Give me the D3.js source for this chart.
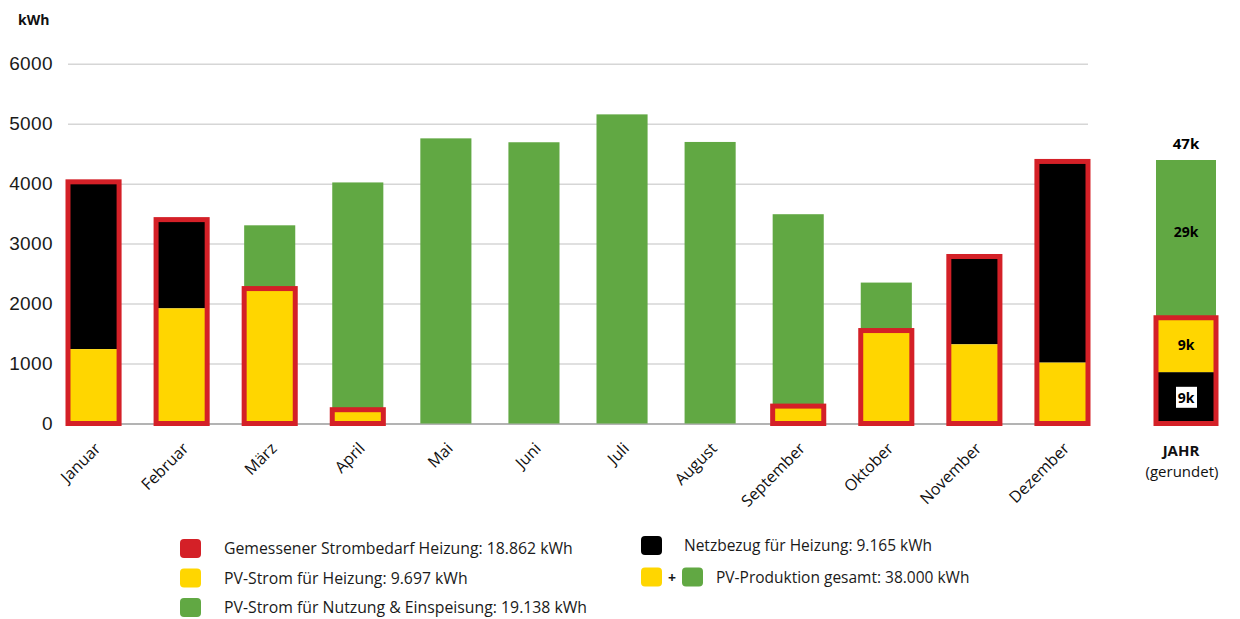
<!DOCTYPE html>
<html>
<head>
<meta charset="utf-8">
<script src="https://cdn.jsdelivr.net/npm/d3@7"></script>
<style>
  body { margin: 0; background: #fff; }
  svg { font-family: "Open Sans", "Lato", sans-serif; }
</style>
</head>
<body>
<div id="chart"></div>
<script>
// Monthly values (kWh)
const months = ['Januar', 'Februar', 'März', 'April', 'Mai', 'Juni', 'Juli', 'August', 'September', 'Oktober', 'November', 'Dezember'];
const pvHeizung = [1240, 1920, 2250, 230, 0, 0, 0, 0, 290, 1550, 1320, 1015];
const netzbezug = [2790, 1480, 0, 0, 0, 0, 0, 0, 0, 0, 1465, 3355];
const pvNutzung = [0, 0, 1055, 3790, 4755, 4690, 5155, 4695, 3200, 800, 0, 0];
const yTicks = [0, 1000, 2000, 3000, 4000, 5000, 6000];

// Year column (rounded labels)
const jahrValues = [9165, 9697, 28138];   // Netz, PV Heizung, PV Nutzung
const jahrLabels = ['9k', '9k', '29k'];
const jahrTotalLabel = '47k';

const legendLeft = [
    { color: 'red', text: 'Gemessener Strombedarf Heizung: 18.862 kWh' },
    { color: 'yellow', text: 'PV-Strom für Heizung: 9.697 kWh' },
    { color: 'green', text: 'PV-Strom für Nutzung & Einspeisung: 19.138 kWh' }
];
const legendRight = [
    { color: 'black', text: 'Netzbezug für Heizung: 9.165 kWh' },
    { color: 'yellow+green', text: 'PV-Produktion gesamt: 38.000 kWh' }
];

const colors = { red: '#d42027', yellow: '#ffd600', green: '#61a843', black: '#000000' };

const width = 1240, height = 619;
const svg = d3.select('#chart').append('svg')
    .attr('width', width)
    .attr('height', height);

const x = d3.scaleBand()
    .domain(months)
    .range([68, 1088])
    .paddingInner(0.42)
    .paddingOuter(0);

const y = d3.scaleLinear()
    .domain([0, 6000])
    .range([423.5, 63.7]);

// grid + y axis
const yAxis = svg.append('g')
    .attr('transform', 'translate(68,0)')
    .call(d3.axisLeft(y).tickValues(yTicks).tickSize(-1020).tickPadding(15).tickFormat(d3.format('d')));
yAxis.select('.domain').remove();
yAxis.selectAll('.tick line')
    .attr('stroke', d => d === 0 ? '#9a9a9a' : '#d6d6d6')
    .attr('stroke-width', 1.5);
yAxis.selectAll('.tick text')
    .attr('fill', '#1a1a1a')
    .style('font-size', '19px')
    .style('letter-spacing', '0.4px');

svg.append('text')
    .attr('x', 18)
    .attr('y', 25)
    .attr('fill', '#111')
    .style('font-size', '14px')
    .style('font-weight', 'bold')
    .text('kWh');

// stacked bars
const rows = months.map((m, i) => ({
    month: m,
    yellow: pvHeizung[i],
    black: netzbezug[i],
    green: pvNutzung[i],
    heat: pvHeizung[i] + netzbezug[i]
}));

const bars = svg.append('g').selectAll('g')
    .data(rows)
    .enter()
    .append('g')
    .attr('transform', d => `translate(${x(d.month)},0)`);

bars.append('rect')
    .attr('width', x.bandwidth())
    .attr('y', d => y(d.heat + d.green))
    .attr('height', d => y(d.heat) - y(d.heat + d.green))
    .attr('fill', colors.green);

bars.append('rect')
    .attr('width', x.bandwidth())
    .attr('y', d => y(d.heat))
    .attr('height', d => y(d.yellow) - y(d.heat))
    .attr('fill', colors.black);

bars.append('rect')
    .attr('width', x.bandwidth())
    .attr('y', d => y(d.yellow))
    .attr('height', d => y(0) - y(d.yellow))
    .attr('fill', colors.yellow);

bars.filter(d => d.heat > 0)
    .append('rect')
    .attr('width', x.bandwidth())
    .attr('y', d => y(d.heat))
    .attr('height', d => y(0) - y(d.heat))
    .attr('fill', 'none')
    .attr('stroke', colors.red)
    .attr('stroke-width', 5);

// month labels
svg.append('g').selectAll('text')
    .data(months)
    .enter()
    .append('text')
    .attr('transform', d => `translate(${x(d) + x.bandwidth() / 2 + 8},${y(0) + 26}) rotate(-45)`)
    .attr('text-anchor', 'end')
    .attr('fill', '#111')
    .style('font-size', '16px')
    .text(d => d);

// year column
const jahrX = 1156, jahrW = 60;
const yJ = d3.scaleLinear()
    .domain([0, d3.sum(jahrValues)])
    .range([423.5, 160]);

const jahrStack = [];
let acc = 0;
jahrValues.forEach((v, i) => {
    jahrStack.push({ y0: acc, y1: acc + v, color: [colors.black, colors.yellow, colors.green][i], label: jahrLabels[i] });
    acc += v;
});

const jahr = svg.append('g');
jahr.selectAll('rect.seg')
    .data(jahrStack)
    .enter()
    .append('rect')
    .attr('class', 'seg')
    .attr('x', jahrX)
    .attr('width', jahrW)
    .attr('y', d => yJ(d.y1))
    .attr('height', d => yJ(d.y0) - yJ(d.y1))
    .attr('fill', d => d.color);

jahr.append('rect')
    .attr('x', jahrX)
    .attr('width', jahrW)
    .attr('y', yJ(jahrValues[0] + jahrValues[1]))
    .attr('height', yJ(0) - yJ(jahrValues[0] + jahrValues[1]))
    .attr('fill', 'none')
    .attr('stroke', colors.red)
    .attr('stroke-width', 5);

// white label box on the black segment
const blackMid = (yJ(jahrStack[0].y0) + yJ(jahrStack[0].y1)) / 2;
jahr.append('rect')
    .attr('x', jahrX + jahrW / 2 - 10)
    .attr('y', blackMid - 11)
    .attr('width', 21)
    .attr('height', 21)
    .attr('fill', '#fff');

jahr.selectAll('text.seg')
    .data(jahrStack)
    .enter()
    .append('text')
    .attr('class', 'seg')
    .attr('x', jahrX + jahrW / 2)
    .attr('y', (d, i) => (yJ(d.y0) + yJ(d.y1)) / 2 + 5 - (i === 2 ? 7 : 0))
    .attr('text-anchor', 'middle')
    .attr('fill', '#000')
    .style('font-size', '14px')
    .style('font-weight', 'bold')
    .text(d => d.label);

jahr.append('text')
    .attr('x', jahrX + jahrW / 2)
    .attr('y', yJ(acc) - 11)
    .attr('text-anchor', 'middle')
    .attr('fill', '#000')
    .style('font-size', '15px')
    .style('font-weight', 'bold')
    .text(jahrTotalLabel);

jahr.append('text')
    .attr('x', 1181)
    .attr('y', 456)
    .attr('text-anchor', 'middle')
    .attr('fill', '#111')
    .style('font-size', '15px')
    .style('font-weight', 'bold')
    .text('JAHR');

jahr.append('text')
    .attr('x', 1182)
    .attr('y', 477)
    .attr('text-anchor', 'middle')
    .attr('fill', '#111')
    .style('font-size', '15px')
    .text('(gerundet)');

// legend
function swatch(g, xPos, yPos, color) {
    g.append('rect')
        .attr('x', xPos)
        .attr('y', yPos)
        .attr('width', 21)
        .attr('height', 19)
        .attr('rx', 4)
        .attr('fill', colors[color]);
}

const legL = svg.append('g');
legendLeft.forEach((d, i) => {
    const yy = 539 + i * 29.5;
    swatch(legL, 180, yy, d.color);
    legL.append('text')
        .attr('x', 224)
        .attr('y', yy + 15)
        .attr('fill', '#1a1a1a')
        .style('font-size', '15.8px')
        .text(d.text);
});

const legR = svg.append('g');
legendRight.forEach((d, i) => {
    const yy = 536 + i * 31.5;
    if (d.color === 'yellow+green') {
        swatch(legR, 641, yy, 'yellow');
        legR.append('text')
            .attr('x', 672)
            .attr('y', yy + 15)
            .attr('text-anchor', 'middle')
            .attr('fill', '#1a1a1a')
            .style('font-size', '14px')
            .style('font-weight', 'bold')
            .text('+');
        swatch(legR, 682, yy, 'green');
        legR.append('text')
            .attr('x', 716)
            .attr('y', yy + 15)
            .attr('fill', '#1a1a1a')
            .style('font-size', '15.5px')
            .text(d.text);
    } else {
        swatch(legR, 641, yy, d.color);
        legR.append('text')
            .attr('x', 684)
            .attr('y', yy + 15)
            .attr('fill', '#1a1a1a')
            .style('font-size', '15.5px')
            .text(d.text);
    }
});
</script>
</body>
</html>
